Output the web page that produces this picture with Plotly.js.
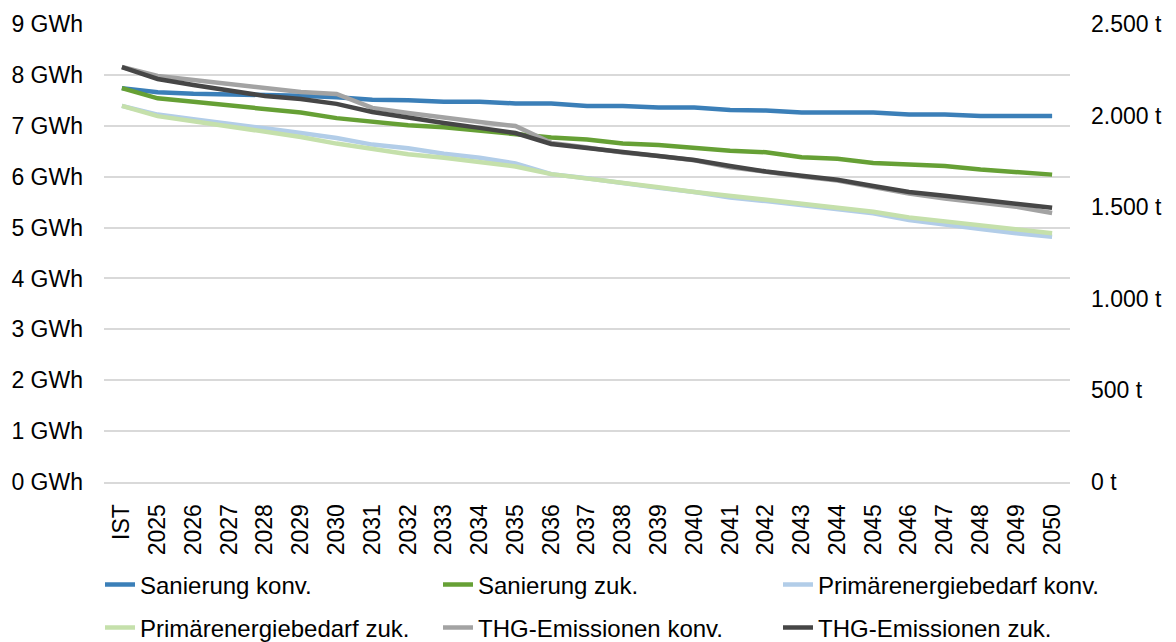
<!DOCTYPE html>
<html>
<head>
<meta charset="utf-8">
<script src="https://cdn.plot.ly/plotly-3.0.1.min.js"></script>
<style>html,body{margin:0;padding:0;background:#fff;}#chart{width:1176px;height:642px;}</style>
</head>
<body>
<div id="chart"></div>
<script>
const categories = ['IST','2025','2026','2027','2028','2029','2030','2031','2032','2033','2034','2035','2036','2037','2038','2039','2040','2041','2042','2043','2044','2045','2046','2047','2048','2049','2050'];

// GWh (left axis)
const sanierungKonv = [7.74,7.66,7.63,7.62,7.61,7.59,7.56,7.51,7.50,7.47,7.47,7.44,7.44,7.39,7.39,7.36,7.36,7.31,7.30,7.26,7.26,7.26,7.22,7.22,7.19,7.19,7.19];
const sanierungZuk = [7.74,7.54,7.47,7.40,7.33,7.26,7.15,7.08,7.01,6.97,6.90,6.85,6.77,6.73,6.65,6.62,6.56,6.51,6.48,6.38,6.35,6.27,6.24,6.21,6.14,6.10,6.04];
const primaerKonv = [7.39,7.22,7.13,7.05,6.95,6.86,6.76,6.63,6.56,6.45,6.37,6.26,6.05,5.97,5.87,5.78,5.70,5.59,5.52,5.44,5.36,5.28,5.15,5.05,4.97,4.89,4.82];
const primaerZuk = [7.39,7.19,7.09,6.99,6.88,6.78,6.65,6.55,6.44,6.37,6.29,6.20,6.05,5.97,5.89,5.79,5.70,5.63,5.55,5.47,5.39,5.31,5.20,5.12,5.05,4.97,4.89];

// t (right axis)
const thgKonv = [2265,2216,2194,2173,2151,2129,2118,2042,2014,1987,1965,1943,1851,1826,1798,1780,1756,1718,1690,1668,1645,1610,1574,1548,1527,1503,1468];
const thgZuk = [2265,2200,2167,2134,2107,2091,2064,2020,1987,1960,1933,1905,1845,1823,1796,1780,1758,1725,1695,1672,1650,1616,1583,1563,1542,1520,1497];

const seriesNames = ['Sanierung konv.','Sanierung zuk.','Primärenergiebedarf konv.','Primärenergiebedarf zuk.','THG-Emissionen konv.','THG-Emissionen zuk.'];
const leftTicks = [0,1,2,3,4,5,6,7,8,9];
const leftTickLabels = ['0 GWh','1 GWh','2 GWh','3 GWh','4 GWh','5 GWh','6 GWh','7 GWh','8 GWh','9 GWh'];
const rightTicks = [0,500,1000,1500,2000,2500];
const rightTickLabels = ['0 t','500 t','1.000 t','1.500 t','2.000 t','2.500 t'];

const FONT = 'Liberation Sans, Arial, sans-serif';
const FS = 23;
const LFS = 24;
const LW = 4.5;

function tr(y, name, color, axis, legend) {
  return {
    type: 'scatter', mode: 'lines', x: categories, y: y, name: name,
    yaxis: axis, legend: legend,
    line: {color: color, width: LW, shape: 'linear'},
    hoverinfo: 'x+y+name'
  };
}

const data = [
  tr(sanierungKonv, seriesNames[0], '#3b7fb8', 'y', 'legend'),
  tr(sanierungZuk, seriesNames[1], '#66a035', 'y', 'legend2'),
  tr(primaerKonv, seriesNames[2], '#b2cde8', 'y', 'legend3'),
  tr(primaerZuk, seriesNames[3], '#c5e0ab', 'y', 'legend4'),
  tr(thgKonv, seriesNames[4], '#a3a3a3', 'y2', 'legend5'),
  tr(thgZuk, seriesNames[5], '#464646', 'y2', 'legend6')
];

function leg(px, py) {
  return {
    orientation: 'h', xref: 'container', yref: 'container',
    xanchor: 'left', yanchor: 'middle',
    x: px / 1176, y: 1 - py / 642,
    font: {family: FONT, size: LFS, color: '#000'},
    bgcolor: 'rgba(0,0,0,0)', borderwidth: 0
  };
}

const layout = {
  width: 1176, height: 642,
  margin: {l: 104, r: 106, t: 24, b: 160, pad: 0},
  paper_bgcolor: '#fff', plot_bgcolor: '#fff',
  font: {family: FONT, size: FS, color: '#000'},
  showlegend: true,
  legend: leg(100, 585),
  legend2: leg(438, 585),
  legend3: leg(778, 585),
  legend4: leg(100, 628),
  legend5: leg(438, 628),
  legend6: leg(778, 628),
  xaxis: {
    type: 'category', range: [-0.5, 26.5],
    tickangle: -90, showgrid: false, zeroline: false,
    showline: true, linecolor: '#d9d9d9', linewidth: 2,
    ticks: '', ticklabelstandoff: 11,
    tickfont: {family: FONT, size: FS, color: '#000'}
  },
  yaxis: {
    range: [0, 9], tickmode: 'array', tickvals: leftTicks, ticktext: leftTickLabels,
    showgrid: true, gridcolor: '#d9d9d9', gridwidth: 2,
    zeroline: false, showline: false, ticks: '',
    ticklabelstandoff: 20,
    tickfont: {family: FONT, size: FS, color: '#000'}
  },
  yaxis2: {
    overlaying: 'y', side: 'right', range: [0, 2500],
    tickmode: 'array', tickvals: rightTicks, ticktext: rightTickLabels,
    showgrid: false, zeroline: false, showline: false, ticks: '',
    ticklabelstandoff: 20,
    tickfont: {family: FONT, size: FS, color: '#000'}
  }
};

Plotly.newPlot('chart', data, layout, {displayModeBar: false, staticPlot: true});
</script>
</body>
</html>
